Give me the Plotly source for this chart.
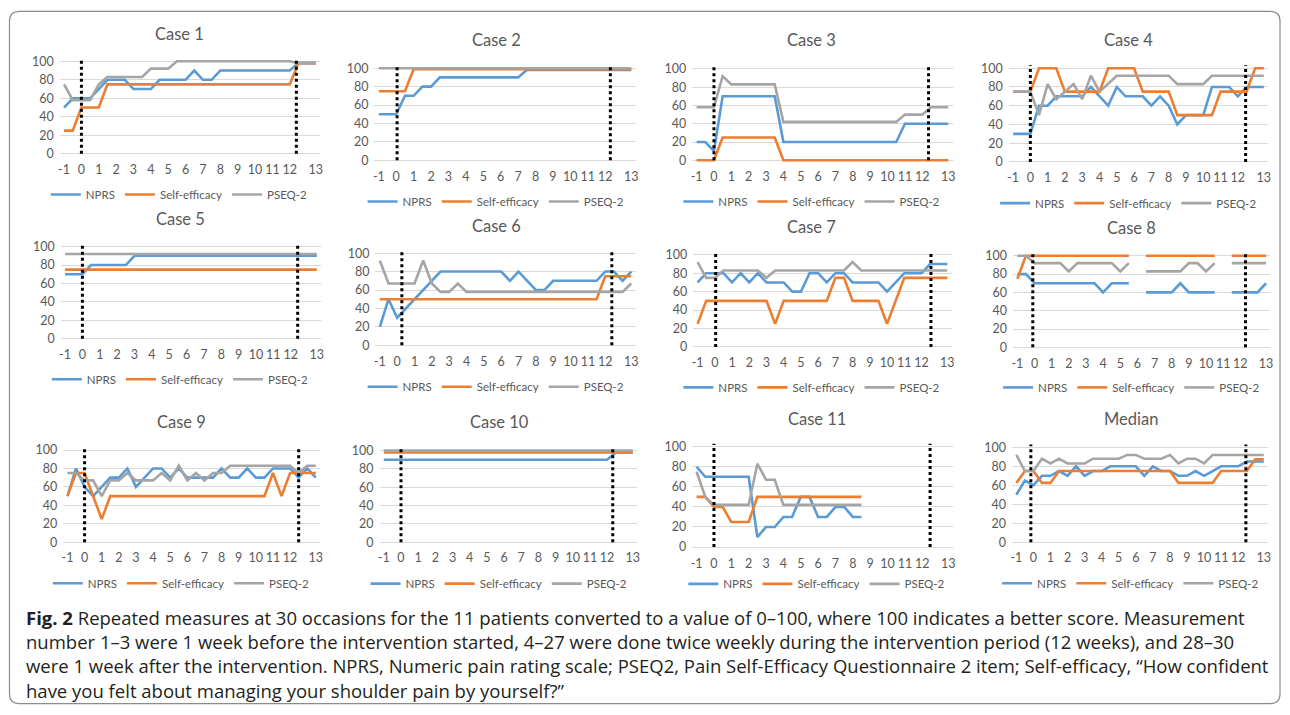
import plotly.graph_objects as go

W, H = 1290, 715

# ---------------- data ----------------
x_pos = [-1, -0.5, 0, 0.5, 1, 1.5, 2, 2.5, 3, 3.5, 4, 4.5, 5, 5.5, 6, 6.5, 7, 7.5,
         8, 8.5, 9, 9.5, 10, 10.5, 11, 11.5, 12, 12.5, 13, 13.5]
tick_vals = [-1, 0, 1, 2, 3, 4, 5, 6, 7, 8, 9, 10, 11, 12, 13.5]
tick_text = ["-1", "0", "1", "2", "3", "4", "5", "6", "7", "8", "9", "10", "11", "12", "13"]
y_ticks = [0, 20, 40, 60, 80, 100]
series_names = ["NPRS", "Self-efficacy", "PSEQ-2"]
panel_titles = ["Case 1", "Case 2", "Case 3", "Case 4", "Case 5", "Case 6",
                "Case 7", "Case 8", "Case 9", "Case 10", "Case 11", "Median"]

case1_nprs = [50, 60, 60, 60, 70, 80, 80, 80, 70, 70, 70, 80, 80, 80, 80, 90, 80, 80, 90, 90, 90, 90, 90, 90, 90, 90, 90, 98, 98, 98]
case1_self = [25, 25, 50, 50, 50, 75, 75, 75, 75, 75, 75, 75, 75, 75, 75, 75, 75, 75, 75, 75, 75, 75, 75, 75, 75, 75, 75, 98, 98, 98]
case1_pseq = [75, 58, 58, 58, 75, 83, 83, 83, 83, 83, 92, 92, 92, 100, 100, 100, 100, 100, 100, 100, 100, 100, 100, 100, 100, 100, 100, 98, 98, 98]

case2_nprs = [50, 50, 50, 70, 70, 80, 80, 90, 90, 90, 90, 90, 90, 90, 90, 90, 90, 98, 98, 98, 98, 98, 98, 98, 98, 98, 98, 98, 98, 98]
case2_self = [75, 75, 75, 75, 99, 99, 99, 99, 99, 99, 99, 99, 99, 99, 99, 99, 99, 99, 99, 99, 99, 99, 99, 99, 99, 99, 99, 99, 99, 99]
case2_pseq = [100, 100, 100, 100, 100, 100, 100, 100, 100, 100, 100, 100, 100, 100, 100, 100, 100, 100, 100, 100, 100, 100, 100, 100, 100, 100, 100, 100, 100, 100]

case3_nprs = [20, 20, 10, 70, 70, 70, 70, 70, 70, 70, 20, 20, 20, 20, 20, 20, 20, 20, 20, 20, 20, 20, 20, 20, 40, 40, 40, 40, 40, 40]
case3_self = [0, 0, 0, 25, 25, 25, 25, 25, 25, 25, 0, 0, 0, 0, 0, 0, 0, 0, 0, 0, 0, 0, 0, 0, 0, 0, 0, 0, 0, 0]
case3_pseq = [58, 58, 58, 92, 83, 83, 83, 83, 83, 83, 42, 42, 42, 42, 42, 42, 42, 42, 42, 42, 42, 42, 42, 42, 50, 50, 50, 58, 58, 58]

case4_nprs = [30, 30, 30, 60, 60, 70, 70, 70, 70, 80, 70, 60, 80, 70, 70, 70, 60, 70, 60, 40, 50, 50, 50, 80, 80, 80, 70, 80, 80, 80]
case4_self = [75, 75, 75, 100, 100, 100, 75, 75, 75, 75, 75, 100, 100, 100, 100, 75, 75, 75, 75, 50, 50, 50, 50, 50, 75, 75, 75, 75, 100, 100]
case4_pseq = [75, 75, 75, 50, 83, 67, 75, 83, 67, 92, 75, 83, 92, 92, 92, 92, 92, 92, 92, 83, 83, 83, 83, 92, 92, 92, 92, 92, 92, 92]

case5_nprs = [70, 70, 70, 80, 80, 80, 80, 80, 90, 90, 90, 90, 90, 90, 90, 90, 90, 90, 90, 90, 90, 90, 90, 90, 90, 90, 90, 90, 90, 90]
case5_self = [75, 75, 75, 75, 75, 75, 75, 75, 75, 75, 75, 75, 75, 75, 75, 75, 75, 75, 75, 75, 75, 75, 75, 75, 75, 75, 75, 75, 75, 75]
case5_pseq = [92, 92, 92, 92, 92, 92, 92, 92, 92, 92, 92, 92, 92, 92, 92, 92, 92, 92, 92, 92, 92, 92, 92, 92, 92, 92, 92, 92, 92, 92]

case6_nprs = [20, 50, 30, 40, 50, 60, 70, 80, 80, 80, 80, 80, 80, 80, 80, 70, 80, 70, 60, 60, 70, 70, 70, 70, 70, 70, 80, 80, 70, 80]
case6_self = [50, 50, 50, 50, 50, 50, 50, 50, 50, 50, 50, 50, 50, 50, 50, 50, 50, 50, 50, 50, 50, 50, 50, 50, 50, 50, 75, 75, 75, 75]
case6_pseq = [92, 67, 67, 67, 67, 92, 67, 58, 58, 67, 58, 58, 58, 58, 58, 58, 58, 58, 58, 58, 58, 58, 58, 58, 58, 58, 58, 58, 58, 67]

case7_nprs = [70, 80, 80, 80, 70, 80, 70, 80, 70, 70, 70, 60, 60, 80, 80, 70, 80, 80, 70, 70, 70, 70, 60, 70, 80, 80, 80, 90, 90, 90]
case7_self = [25, 50, 50, 50, 50, 50, 50, 50, 50, 25, 50, 50, 50, 50, 50, 50, 75, 75, 50, 50, 50, 50, 25, 50, 75, 75, 75, 75, 75, 75]
case7_pseq = [92, 75, 75, 83, 83, 83, 83, 83, 75, 83, 83, 83, 83, 83, 83, 83, 83, 83, 92, 83, 83, 83, 83, 83, 83, 83, 83, 83, 83, 83]

case8_nprs = [80, 80, 70, 70, 70, 70, 70, 70, 70, 70, 60, 70, 70, 70, None, 60, 60, 60, 60, 70, 60, 60, 60, 60, None, 60, 60, 60, 60, 70]
case8_self = [75, 100, 100, 100, 100, 100, 100, 100, 100, 100, 100, 100, 100, 100, None, 100, 100, 100, 100, 100, 100, 100, 100, 100, None, 100, 100, 100, 100, 100]
case8_pseq = [100, 100, 92, 92, 92, 92, 83, 92, 92, 92, 92, 92, 83, 92, None, 83, 83, 83, 83, 83, 92, 92, 83, 92, None, 92, 92, 92, 92, 92]

case9_nprs = [50, 80, 60, 50, 60, 70, 70, 80, 60, 70, 80, 80, 70, 80, 70, 70, 70, 70, 80, 70, 70, 80, 70, 70, 80, 80, 80, 70, 80, 70]
case9_self = [50, 75, 75, 50, 25, 50, 50, 50, 50, 50, 50, 50, 50, 50, 50, 50, 50, 50, 50, 50, 50, 50, 50, 50, 75, 50, 75, 75, 75, 75]
case9_pseq = [75, 75, 67, 67, 50, 67, 67, 75, 67, 67, 67, 75, 67, 83, 67, 75, 67, 75, 75, 83, 83, 83, 83, 83, 83, 83, 83, 75, 83, 83]

case10_nprs = [90, 90, 90, 90, 90, 90, 90, 90, 90, 90, 90, 90, 90, 90, 90, 90, 90, 90, 90, 90, 90, 90, 90, 90, 90, 90, 90, 98, 98, 98]
case10_self = [98, 98, 98, 98, 98, 98, 98, 98, 98, 98, 98, 98, 98, 98, 98, 98, 98, 98, 98, 98, 98, 98, 98, 98, 98, 98, 98, 98, 98, 98]
case10_pseq = [100, 100, 100, 100, 100, 100, 100, 100, 100, 100, 100, 100, 100, 100, 100, 100, 100, 100, 100, 100, 100, 100, 100, 100, 100, 100, 100, 100, 100, 100]

case11_nprs = [80, 70, 70, 70, 70, 70, 70, 10, 20, 20, 30, 30, 50, 50, 30, 30, 40, 40, 30, 30, None, None, None, None, None, None, None, None, None, None]
case11_self = [50, 50, 40, 40, 25, 25, 25, 50, 50, 50, 50, 50, 50, 50, 50, 50, 50, 50, 50, 50, None, None, None, None, None, None, None, None, None, None]
case11_pseq = [75, 50, 42, 42, 42, 42, 42, 83, 67, 67, 42, 42, 42, 42, 42, 42, 42, 42, 42, 42, None, None, None, None, None, None, None, None, None, None]

median_nprs = [50, 65, 60, 70, 70, 75, 70, 80, 70, 75, 75, 80, 80, 80, 80, 70, 80, 75, 75, 70, 70, 75, 70, 75, 80, 80, 80, 85, 85, 85]
median_self = [62.5, 75, 75, 62.5, 62.5, 75, 75, 75, 75, 75, 75, 75, 75, 75, 75, 75, 75, 75, 75, 62.5, 62.5, 62.5, 62.5, 62.5, 75, 75, 75, 75, 87.5, 87.5]
median_pseq = [92, 75, 75, 88, 83, 88, 83, 83, 83, 88, 88, 88, 88, 92, 92, 88, 88, 88, 92, 83, 88, 88, 83, 92, 92, 92, 92, 92, 92, 92]

# intervention start / end marker positions (week axis) per panel
start_marks = [0, 0.05, 0, 0, 0, 0.27, 0.05, -0.1, 0, 0, 0, -0.15]
end_marks = [12.38, 12.3, 12.36, 12.45, 12.4, 12.38, 12.55, 12.3, 12.5, 12.33, 12.45, 12.45]

panel_data = [
    (case1_nprs, case1_self, case1_pseq), (case2_nprs, case2_self, case2_pseq),
    (case3_nprs, case3_self, case3_pseq), (case4_nprs, case4_self, case4_pseq),
    (case5_nprs, case5_self, case5_pseq), (case6_nprs, case6_self, case6_pseq),
    (case7_nprs, case7_self, case7_pseq), (case8_nprs, case8_self, case8_pseq),
    (case9_nprs, case9_self, case9_pseq), (case10_nprs, case10_self, case10_pseq),
    (case11_nprs, case11_self, case11_pseq), (median_nprs, median_self, median_pseq),
]

caption_lines = [
    "<b>Fig. 2</b> Repeated measures at 30 occasions for the 11 patients converted to a value of 0–100, where 100 indicates a better score. Measurement",
    "number 1–3 were 1 week before the intervention started, 4–27 were done twice weekly during the intervention period (12 weeks), and 28–30",
    "were 1 week after the intervention. NPRS, Numeric pain rating scale; PSEQ2, Pain Self-Efficacy Questionnaire 2 item; Self-efficacy, “How confident",
    "have you felt about managing your shoulder pain by yourself?”",
]

# ---------------- styling / layout ----------------
colors = ["#5B9BD5", "#ED7D31", "#A5A5A5"]
TXT = "#595959"
FONT = "Lato"

# pixel geometry: x of first label, x of last label, y of 100 grid, y of 0 grid,
# title y, legend y, title/legend centre x
geom = [
    (62.3, 315.0, 58.0, 151.7, 30.0, 193.0, 178),
    (378.3, 631.7, 65.0, 158.3, 36.5, 200.0, 496),
    (697.3, 950.0, 65.7, 158.3, 36.5, 200.0, 813),
    (1015.0, 1266.7, 65.0, 160.0, 36.5, 201.7, 1131),
    (63.3, 316.0, 245.7, 339.0, 217.5, 380.0, 179),
    (379.3, 631.7, 252.3, 345.7, 225.0, 387.7, 496),
    (698.3, 949.0, 254.0, 347.3, 226.0, 388.3, 813),
    (1019.3, 1269.0, 255.0, 347.7, 226.5, 388.3, 1134),
    (65.7, 315.0, 451.7, 545.0, 423.5, 586.7, 180),
    (383.3, 633.3, 452.3, 545.0, 423.5, 587.0, 499),
    (697.3, 950.0, 448.3, 550.0, 420.0, 587.3, 818),
    (1018.3, 1266.7, 449.0, 545.0, 420.5, 586.7, 1133),
]

YMIN, YMAX = -3, 104
fig = go.Figure()
layout = dict(width=W, height=H, margin=dict(l=0, r=0, t=0, b=0),
              paper_bgcolor="white", plot_bgcolor="white",
              font=dict(family=FONT, color=TXT), shapes=[], annotations=[])

for p in range(12):
    xl, xr, y100, y0, ty, ly, cx = geom[p]
    u = (xr - xl) / 14.5
    dx0 = (xl - 0.25 * u) / W
    dx1 = (xr + 0.25 * u) / W
    ppu = (y0 - y100) / 100.0
    bot = y0 - YMIN * ppu
    top = y100 - (YMAX - 100) * ppu
    dy0 = 1 - bot / H
    dy1 = 1 - top / H
    sfx = "" if p == 0 else str(p + 1)
    xa, ya = "xaxis" + sfx, "yaxis" + sfx
    xr_, yr_ = "x" + sfx, "y" + sfx
    lg = "legend" + sfx
    layout[xa] = dict(domain=[dx0, dx1], range=[-1.25, 13.75], anchor=yr_,
                      tickvals=tick_vals, ticktext=tick_text, showgrid=False,
                      zeroline=False, showline=False, ticks="", ticklabelstandoff=4,
                      tickfont=dict(size=12.5, color=TXT, family=FONT), fixedrange=True)
    layout[ya] = dict(domain=[dy0, dy1], range=[YMIN, YMAX], anchor=xr_,
                      tickvals=y_ticks, showgrid=True, gridcolor="#D9D9D9", gridwidth=1,
                      zeroline=False, showline=False, ticks="", ticklabelstandoff=5,
                      tickfont=dict(size=12.5, color=TXT, family=FONT), fixedrange=True)
    layout[lg] = dict(orientation="h", x=cx / W, xanchor="center",
                      y=1 - ly / H, yanchor="middle", font=dict(size=11.5, color=TXT, family=FONT),
                      bgcolor="rgba(0,0,0,0)", itemwidth=30, tracegroupgap=0,
                      traceorder="normal")
    for s in range(3):
        fig.add_trace(go.Scatter(x=x_pos, y=panel_data[p][s], mode="lines",
                                 name=series_names[s], legend=lg,
                                 line=dict(color=colors[s], width=2.6),
                                 xaxis=xr_, yaxis=yr_, hoverinfo="skip"))
    for xm in (start_marks[p], end_marks[p]):
        layout["shapes"].append(dict(type="line", xref=xr_, yref=yr_, x0=xm, x1=xm,
                                     y0=0, y1=103, line=dict(color="black", width=3, dash="dot")))
    layout["annotations"].append(dict(text=panel_titles[p], x=cx / W, y=1 - ty / H,
                                      xref="paper", yref="paper", showarrow=False,
                                      xanchor="center", yanchor="middle",
                                      font=dict(size=16.5, color=TXT, family=FONT)))

# caption
cap_y = [621, 646, 670, 695]
for line, cy in zip(caption_lines, cap_y):
    layout["annotations"].append(dict(text=line, x=22 / W, y=1 - cy / H, xref="paper", yref="paper",
                                      showarrow=False, xanchor="left", yanchor="middle",
                                      font=dict(size=18.5, color="#231F20", family="Open Sans")))

# rounded outer frame
def rr_path(x0, y0, x1, y1, r):
    X = lambda v: v / W
    Y = lambda v: 1 - v / H
    return (f"M {X(x0 + r)} {Y(y0)} L {X(x1 - r)} {Y(y0)} Q {X(x1)} {Y(y0)} {X(x1)} {Y(y0 + r)} "
            f"L {X(x1)} {Y(y1 - r)} Q {X(x1)} {Y(y1)} {X(x1 - r)} {Y(y1)} "
            f"L {X(x0 + r)} {Y(y1)} Q {X(x0)} {Y(y1)} {X(x0)} {Y(y1 - r)} "
            f"L {X(x0)} {Y(y0 + r)} Q {X(x0)} {Y(y0)} {X(x0 + r)} {Y(y0)} Z")

layout["shapes"].append(dict(type="path", xref="paper", yref="paper",
                             path=rr_path(7.5, 7.5, 1283, 708.5, 10),
                             line=dict(color="#8C8C8C", width=1.2)))

fig.update_layout(**layout)
fig.write_html("out.html", config={"displayModeBar": False},
               post_script="document.body.style.margin='0';document.body.style.overflow='hidden';")
